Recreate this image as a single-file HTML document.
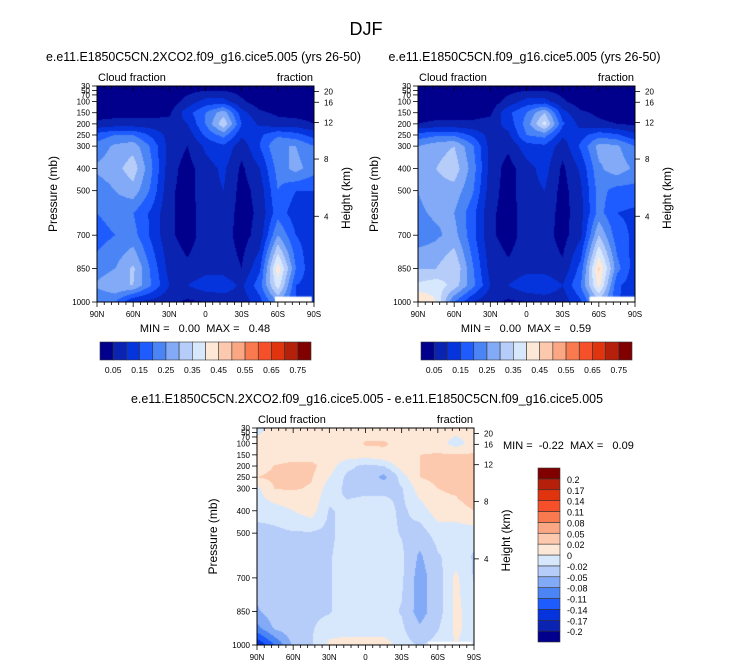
<!DOCTYPE html>
<html><head><meta charset="utf-8">
<style>
html,body{margin:0;padding:0;background:#fff;}
#wrap{position:relative;width:733px;height:668px;overflow:hidden;font-family:"Liberation Sans",Arial,sans-serif;}
canvas{position:absolute;}
svg{position:absolute;left:0;top:0;}
svg text{white-space:pre;}
</style></head>
<body>
<div id="wrap">
<canvas id="cA" width="217" height="216" style="left:97px;top:86px"></canvas>
<canvas id="cB" width="217" height="216" style="left:418px;top:86px"></canvas>
<canvas id="cC" width="217" height="217" style="left:257px;top:428px"></canvas>
<svg id="svg" width="733" height="668"></svg>
</div>
<script>
const lats = ["90N","75N","60N","45N","30N","15N","0","15S","30S","45S","60S","75S","90S"];
const pressures = [30,100,150,200,250,300,400,500,600,700,850,925,1000];
const xTickLabels = ["90N","60N","30N","0","30S","60S","90S"];
const pTickLabels = [30,50,70,100,150,200,250,300,400,500,700,850,1000];
const hTickLabels = [20,16,12,8,4];
const hTickPress = [55,103,194,358,615];
const absLevels = [0.05,0.1,0.15,0.2,0.25,0.3,0.35,0.4,0.45,0.5,0.55,0.6,0.65,0.7,0.75];
const absLabels = ["0.05","0.15","0.25","0.35","0.45","0.55","0.65","0.75"];
const diffLevels = [-0.2,-0.17,-0.14,-0.11,-0.08,-0.05,-0.02,0,0.02,0.05,0.08,0.11,0.14,0.17,0.2];
const colors = ['#00008c','#0a23b0','#0534dc','#1f5cff','#4a84f5','#82aaf6','#b6cdfa','#d8e8fc','#fde8d8','#fcc8ae','#fba784','#f87a4e','#f5502a','#e0340f','#b4200a','#800000'];
const fieldA = [
[0.02,0.02,0.02,0.02,0.02,0.02,0.02,0.02,0.02,0.02,0.02,0.02,0.02],
[0.02,0.02,0.02,0.02,0.02,0.07,0.12,0.12,0.06,0.02,0.02,0.02,0.02],
[0.03,0.03,0.03,0.03,0.04,0.13,0.2,0.28,0.12,0.06,0.04,0.03,0.03],
[0.06,0.07,0.07,0.07,0.07,0.1,0.2,0.34,0.15,0.09,0.07,0.07,0.05],
[0.17,0.2,0.2,0.14,0.08,0.07,0.16,0.22,0.11,0.14,0.19,0.17,0.13],
[0.22,0.26,0.28,0.19,0.08,0.05,0.11,0.14,0.07,0.15,0.25,0.25,0.2],
[0.26,0.28,0.33,0.21,0.07,0.03,0.08,0.11,0.04,0.1,0.22,0.27,0.22],
[0.22,0.25,0.28,0.19,0.06,0.03,0.08,0.1,0.03,0.07,0.2,0.15,0.15],
[0.2,0.22,0.2,0.14,0.06,0.03,0.07,0.08,0.03,0.06,0.18,0.12,0.12],
[0.18,0.2,0.22,0.14,0.06,0.03,0.07,0.07,0.03,0.07,0.25,0.15,0.12],
[0.22,0.25,0.31,0.19,0.08,0.06,0.08,0.08,0.05,0.14,0.43,0.2,0.1],
[0.26,0.3,0.3,0.2,0.1,0.1,0.13,0.13,0.09,0.18,0.38,0.15,0.12],
[0.2,0.2,0.1,0.08,0.06,0.04,0.05,0.07,0.07,0.13,0.25,0.15,0.1]];
const fieldB = [
[0.02,0.02,0.02,0.02,0.02,0.02,0.02,0.02,0.02,0.02,0.02,0.02,0.02],
[0.02,0.02,0.02,0.02,0.02,0.07,0.12,0.12,0.06,0.02,0.02,0.02,0.02],
[0.03,0.03,0.03,0.03,0.04,0.14,0.2,0.3,0.12,0.06,0.04,0.03,0.03],
[0.05,0.06,0.06,0.06,0.07,0.12,0.22,0.37,0.16,0.08,0.06,0.05,0.04],
[0.17,0.19,0.19,0.14,0.08,0.09,0.2,0.22,0.11,0.13,0.18,0.16,0.11],
[0.25,0.28,0.3,0.21,0.08,0.06,0.13,0.14,0.07,0.16,0.27,0.26,0.2],
[0.27,0.3,0.33,0.23,0.08,0.03,0.08,0.12,0.04,0.11,0.24,0.28,0.24],
[0.25,0.28,0.28,0.21,0.07,0.03,0.08,0.1,0.03,0.09,0.22,0.18,0.18],
[0.24,0.26,0.25,0.17,0.06,0.03,0.07,0.08,0.03,0.08,0.22,0.15,0.14],
[0.22,0.24,0.27,0.17,0.06,0.03,0.07,0.07,0.03,0.09,0.3,0.17,0.14],
[0.3,0.3,0.35,0.21,0.08,0.06,0.08,0.08,0.06,0.17,0.46,0.22,0.12],
[0.36,0.38,0.33,0.22,0.1,0.1,0.14,0.14,0.1,0.2,0.42,0.16,0.12],
[0.46,0.4,0.2,0.1,0.06,0.04,0.05,0.07,0.07,0.14,0.28,0.16,0.1]];
const fieldDiff = [
[-0.01,0.01,0.01,0.01,0.01,0.01,0.01,0.01,0.01,0.01,0.01,0.01,0.01],
[0.01,0.01,0.01,0.01,0.01,0.01,0.022,0.022,0.015,0.01,0.01,-0.01,0.01],
[0.01,0.01,0.012,0.012,0.01,0.01,0.01,0.015,0.02,0.02,0.022,0.022,0.022],
[0.01,0.021,0.025,0.025,0.01,-0.015,-0.025,-0.02,0.01,0.02,0.03,0.03,0.03],
[0.02,0.025,0.025,0.022,0.0,-0.025,-0.025,-0.06,-0.01,0.02,0.025,0.04,0.05],
[-0.005,0.021,0.022,0.018,-0.01,-0.025,-0.025,-0.025,-0.022,0.01,0.02,0.025,0.04],
[-0.01,-0.01,0.0,0.01,-0.022,-0.015,-0.01,-0.01,-0.025,-0.01,0.01,0.01,0.02],
[-0.03,-0.025,-0.022,-0.022,-0.025,-0.01,-0.01,-0.01,-0.022,-0.03,-0.01,-0.01,-0.01],
[-0.03,-0.03,-0.03,-0.03,-0.022,-0.01,-0.01,-0.01,-0.015,-0.055,-0.022,-0.01,-0.022],
[-0.03,-0.03,-0.03,-0.03,-0.022,-0.01,-0.01,-0.01,-0.015,-0.065,-0.03,0.005,-0.022],
[-0.055,-0.03,-0.03,-0.025,-0.022,-0.01,-0.01,-0.01,-0.022,-0.065,-0.03,0.005,-0.01],
[-0.09,-0.045,-0.03,-0.022,-0.01,-0.01,-0.01,-0.01,-0.015,-0.045,-0.022,0.005,-0.01],
[-0.17,-0.11,-0.045,-0.022,0.005,0.01,0.01,0.01,-0.01,-0.022,-0.01,0.0,-0.01]];

const PMIN=30, PMAX=1000;
function sample(field,fx,p){
  let i=0; while(i<pressures.length-2 && p>pressures[i+1]) i++;
  const t=Math.max(0,Math.min(1,(p-pressures[i])/(pressures[i+1]-pressures[i])));
  const j=Math.min(11,Math.floor(fx)); const s=fx-j;
  const a=field[i][j]*(1-s)+field[i][j+1]*s;
  const b=field[i+1][j]*(1-s)+field[i+1][j+1]*s;
  return a*(1-t)+b*t;
}
function bin(v,levels){let k=0;while(k<levels.length&&v>=levels[k])k++;return k;}
function paint(id,field,levels,mask){
  const c=document.getElementById(id),ctx=c.getContext('2d');
  const W=c.width,H=c.height;
  for(let y=0;y<H;y++){
    const p=PMIN+(PMAX-PMIN)*(y+0.5)/H;
    for(let x=0;x<W;x++){
      const fx=12*(x+0.5)/W;
      ctx.fillStyle=colors[bin(sample(field,fx,p),levels)];
      ctx.fillRect(x,y,1,1);
    }
  }
  if(mask){ctx.fillStyle='#fff';ctx.fillRect(mask[0]*W,mask[1]*H,mask[2]*W,H-mask[1]*H);}
}
paint('cA',fieldA,absLevels,[0.82,0.975,0.17]);
paint('cB',fieldB,absLevels,[0.79,0.975,0.22]);
paint('cC',fieldDiff,diffLevels,[0.79,0.985,0.2]);

const svg=document.getElementById('svg');const NS='http://www.w3.org/2000/svg';
function el(tag,attrs,txt){const e=document.createElementNS(NS,tag);for(const k in attrs)e.setAttribute(k,attrs[k]);if(txt!==undefined)e.textContent=txt;svg.appendChild(e);return e;}
function txt(x,y,s,size,anchor,name,extra){const t=el('text',Object.assign({x:x,y:y,'font-size':size,'text-anchor':anchor||'start',fill:'#000','font-family':'Liberation Sans, Arial, sans-serif'},extra||{}),s);


return t;}

txt(366,35,'DJF',18,'middle','figure-title');
function panel(ox,oy,w,h,title,tl,minmax,mmPos,tag){
  const yOf=p=>oy+h*(p-PMIN)/(PMAX-PMIN);
  const xOf=i=>ox+w*i/6;
  const frame=el('rect',{x:ox,y:oy,width:w,height:h,fill:'none',stroke:'#000','stroke-width':1});
  
  
  if(title){txt(ox+w/2-2,oy-25,title,12.5,'middle',tag+'-subtitle',{textLength:tl,lengthAdjust:'spacingAndGlyphs'});}
  txt(ox+1,oy-5,'Cloud fraction',11,'start',tag+'-left-label');
  txt(ox+w-1,oy-5,'fraction',11,'end',tag+'-right-label');
  for(let i=0;i<=30;i++){const x=ox+w*i/30;const L=(i%5==0)?5:3;
    const t1=el('line',{x1:x,y1:oy,x2:x,y2:oy+L,stroke:'#000','stroke-width':0.8});
    
    
    const t2=el('line',{x1:x,y1:oy+h,x2:x,y2:oy+h+L,stroke:'#000','stroke-width':0.8});
    
    }
  xTickLabels.forEach((s,i)=>{txt(xOf(i),oy+h+15,s,8,'middle',tag+'-x-tick-label');});
  pTickLabels.forEach(p=>{const y=yOf(p);
    const tk=el('line',{x1:ox-5,y1:y,x2:ox,y2:y,stroke:'#000','stroke-width':0.8});
    
    
    txt(ox-7,y+3,String(p),8,'end',tag+'-pressure-tick-label');});
  hTickLabels.forEach((hk,i)=>{const y=yOf(hTickPress[i]);
    const tk=el('line',{x1:ox+w,y1:y,x2:ox+w+5,y2:y,stroke:'#000','stroke-width':0.8});
    
    
    txt(ox+w+10,y+3,String(hk),8,'start',tag+'-height-tick-label');});
  txt(0,0,'Pressure (mb)',12,'middle',tag+'-y-axis-title',{transform:`translate(${ox-40},${oy+h/2}) rotate(-90)`});
  txt(0,0,'Height (km)',12,'middle',tag+'-y2-axis-title',{transform:`translate(${ox+w+36},${oy+h/2+4}) rotate(-90)`});
  txt(mmPos[0],mmPos[1],minmax,11,mmPos[2],tag+'-min-max',{'xml:space':'preserve'});
}
panel(97,86,217,216,'e.e11.E1850C5CN.2XCO2.f09_g16.cice5.005 (yrs 26-50)',315,'MIN =   0.00  MAX =   0.48',[205,332,'middle'],'left');
panel(418,86,217,216,'e.e11.E1850C5CN.f09_g16.cice5.005 (yrs 26-50)',272,'MIN =   0.00  MAX =   0.59',[526,332,'middle'],'right');
panel(257,428,217,217,null,0,'MIN =  -0.22  MAX =   0.09',[503,449,'start'],'diff');
txt(367,403,'e.e11.E1850C5CN.2XCO2.f09_g16.cice5.005 - e.e11.E1850C5CN.f09_g16.cice5.005',12.5,'middle','diff-title',{textLength:472,lengthAdjust:'spacingAndGlyphs'});

function hbar(x0,y0,w,h,tag){
  const bw=w/colors.length;
  colors.forEach((c,i)=>{const r=el('rect',{x:x0+i*bw,y:y0,width:bw,height:h,fill:c,stroke:'#333','stroke-width':0.6});
    
    });
  absLabels.forEach((s,k)=>{txt(x0+bw*(2*k+1),y0+h+13,s,8.5,'middle',tag+'-colorbar-label');});
}
hbar(100,342,211,18,'left');
hbar(421,342,211,18,'right');
(function(){const x0=538,y0=468,w=22,h=174,bh=h/colors.length;
  colors.forEach((c,i)=>{const r=el('rect',{x:x0,y:y0+h-(i+1)*bh,width:w,height:bh,fill:c,stroke:'#333','stroke-width':0.6});
    
    });
  diffLevels.forEach((v,i)=>{const y=y0+h-(i+1)*bh;txt(x0+w+7,y+4,String(v),9,'start','diff-colorbar-label');});
})();
</script>
</body></html>
